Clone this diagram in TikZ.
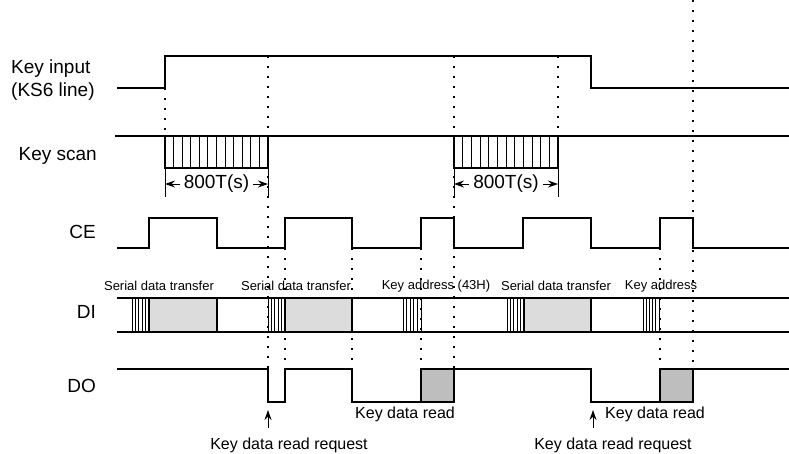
\documentclass[tikz,border=0pt]{standalone}
\usepackage{fontspec}
\setmainfont{Liberation Sans}
\usepackage{tikz}
\usetikzlibrary{arrows.meta, positioning}
\definecolor{dilight}{HTML}{DCDCDC}
\definecolor{dodark}{HTML}{BEBEBE}
\tikzset{
  sig/.style = {line width=1.3pt, line join=miter},
  fine/.style = {line width=1pt},
  tip/.style = {-{Stealth[length=10pt, width=7pt]}},
  guide/.style = {line width=1.6pt, dash pattern=on 2pt off 8pt},
  lbl/.style = {inner sep=0pt, font=\fontsize{19}{23}\selectfont},
  note/.style = {inner sep=0pt, font=\fontsize{16}{19}\selectfont},
  small/.style = {inner sep=0pt, font=\fontsize{13}{15}\selectfont}
}
% hatched start of a DI burst
\newcommand{\hatch}[2]{\foreach \k in {0,...,5} \draw[fine] ({#1+\k*(#2-#1)/5},298) -- ++(0,34);}

\begin{document}
\begin{tikzpicture}[x=1pt, y=-1pt]
\useasboundingbox (0,0) rectangle (789,453);
% signal names
\node[lbl, anchor=west, align=left] (ki) at (11,80) {Key input\\(KS6 line)};
\node[lbl, anchor=east] (ks) at (97,156) {Key scan};
\node[lbl, anchor=east] (ce) at (96,232) {CE};
\node[lbl, anchor=east] (di) at (96,312) {DI};
\node[lbl, anchor=east] (do) at (96,386) {DO};
% guides
\foreach \x/\a/\b in {165/88/136, 268/56/369, 285/248/369, 352/248/369, 421/248/369,
  454/56/369, 558/56/136, 660/248/369, 693/0/369}
  \draw[guide] (\x,\a) -- (\x,\b);
% key input
\draw[sig] (117,88) -| (165,56) -| (591,88) -- (789,88);
% key scan
\draw[sig] (115,136) -- (789,136);
\foreach \s/\e in {165/268, 454/558}{
  \draw[sig] (\s,136) rectangle (\e,168);
  \foreach \i in {1,...,11} \draw[fine] ({\s+\i*(\e-\s)/12},136) -- ++(0,32);
  \draw[fine] (\s,168) -- ++(0,29) (\e,168) -- ++(0,29);
}
\node[lbl, inner xsep=4pt] (dima) at (216.5,184) {800T(s)};
\node[lbl, inner xsep=4pt] (dimb) at (506,184) {800T(s)};
\coordinate (da1) at (165,184); \coordinate (da2) at (268,184);
\coordinate (db1) at (454,184); \coordinate (db2) at (558,184);
\draw[fine, tip] (dima) -- (da1); \draw[fine, tip] (dima) -- (da2);
\draw[fine, tip] (dimb) -- (db1); \draw[fine, tip] (dimb) -- (db2);
% CE
\draw[sig] (117,248) -| (149,218) -| (217,248) -| (285,218) -| (352,248) -| (421,218)
  -| (454,248) -| (523,218) -| (591,248) -| (660,218) -| (693,248) -- (789,248);
% DI
\draw[sig] (117,298) -- (789,298) (117,332) -- (789,332);
\draw[sig, fill=dilight] (149,298) rectangle (217,332);
\draw[sig, fill=dilight] (285,298) rectangle (352,332);
\draw[sig, fill=dilight] (524,298) rectangle (591,332);
\hatch{132}{149} \hatch{268}{285} \hatch{403}{421} \hatch{507}{524} \hatch{643}{659}
\node[small] (t1) at (159,286) {Serial data transfer};
\node[small] (t2) at (296,286) {Serial data transfer};
\node[small] (t3) at (436,286) {Key address (43H)};
\node[small] (t4) at (556,286) {Serial data transfer};
\node[small] (t5) at (661,286) {Key address};
% DO
\draw[sig] (117,369) -| (268,402) -| (285,369) -| (352,402) -- (421,402);
\draw[sig, fill=dodark] (421,369) rectangle (454,402);
\draw[sig] (454,369) -| (591,402) -- (660,402);
\draw[sig, fill=dodark] (660,369) rectangle (693,402);
\draw[sig] (693,369) -- (789,369);
\node[note] (kr1) at (405,414) {Key data read};
\node[note] (kr2) at (655,414) {Key data read};
\node[note] (rq1) at (289,445) {Key data read request};
\node[note] (rq2) at (613,445) {Key data read request};
\coordinate (up1) at (268,410); \coordinate (dn1) at (268,428);
\coordinate (up2) at (593,410); \coordinate (dn2) at (593,428);
\draw[fine, tip] (dn1) -- (up1);
\draw[fine, tip] (dn2) -- (up2);
\end{tikzpicture}
\end{document}
